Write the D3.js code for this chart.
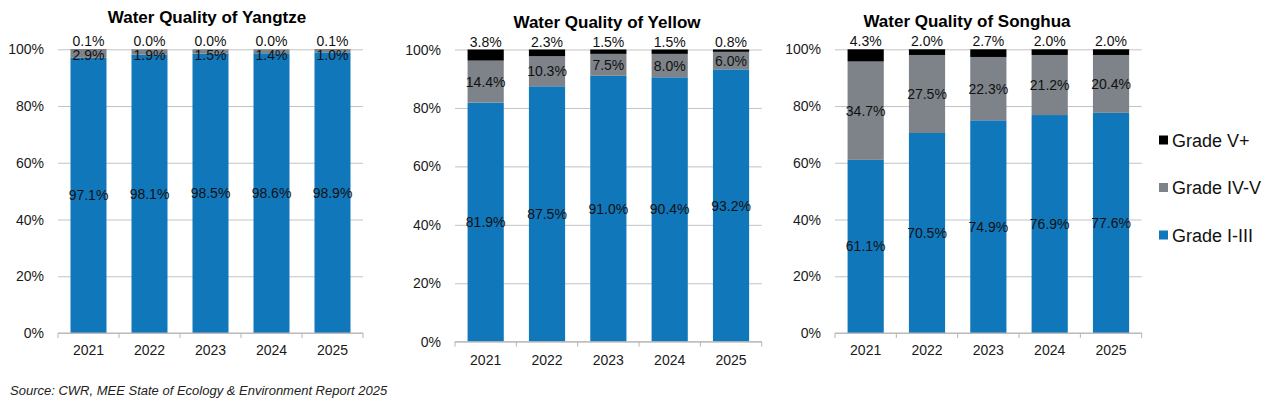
<!DOCTYPE html>
<html>
<head>
<meta charset="utf-8">
<script src="https://cdn.jsdelivr.net/npm/d3@7"></script>
<style>
  body { margin: 0; background: #fff; }
  svg { font-family: "Liberation Sans", Arial, sans-serif; }
</style>
</head>
<body>
<div id="chart"></div>
<script>
const years = ["2021", "2022", "2023", "2024", "2025"];
const grades = ["Grade I-III", "Grade IV-V", "Grade V+"];
const yTicks = [0, 0.2, 0.4, 0.6, 0.8, 1];

const yangtzeI = [97.1, 98.1, 98.5, 98.6, 98.9];
const yangtzeIV = [2.9, 1.9, 1.5, 1.4, 1.0];
const yangtzeV = [0.1, 0.0, 0.0, 0.0, 0.1];

const yellowI = [81.9, 87.5, 91.0, 90.4, 93.2];
const yellowIV = [14.4, 10.3, 7.5, 8.0, 6.0];
const yellowV = [3.8, 2.3, 1.5, 1.5, 0.8];

const songhuaI = [61.1, 70.5, 74.9, 76.9, 77.6];
const songhuaIV = [34.7, 27.5, 22.3, 21.2, 20.4];
const songhuaV = [4.3, 2.0, 2.7, 2.0, 2.0];

const colors = { "Grade I-III": "#1077bb", "Grade IV-V": "#7d8389", "Grade V+": "#000000" };

const W = 1278, H = 409;
const svg = d3.select("#chart").append("svg")
    .attr("width", W)
    .attr("height", H);

// one panel per river
const panels = [
  { title: "Water Quality of Yangtze", vals: [yangtzeI, yangtzeIV, yangtzeV],
    x0: 58, x1: 363, yTop: 49.3, yBot: 333, titleX: 207, titleY: 22.5, yearY: 355 },
  { title: "Water Quality of Yellow", vals: [yellowI, yellowIV, yellowV],
    x0: 455, x1: 761.7, yTop: 49.5, yBot: 341.7, titleX: 607, titleY: 27.8, yearY: 365 },
  { title: "Water Quality of Songhua", vals: [songhuaI, songhuaIV, songhuaV],
    x0: 835, x1: 1141.7, yTop: 49.3, yBot: 333, titleX: 967, titleY: 26.8, yearY: 355 }
];

panels.forEach(p => {
  const rows = years.map((yr, i) => {
    const r = { year: yr };
    grades.forEach((g, k) => r[g] = p.vals[k][i]);
    return r;
  });

  const stacked = d3.stack().keys(grades).offset(d3.stackOffsetExpand)(rows);

  const x = d3.scaleBand().domain(years).range([p.x0, p.x1])
      .paddingInner(0.41).paddingOuter(0.205);
  const y = d3.scaleLinear().domain([0, 1]).range([p.yBot, p.yTop]);

  const g = svg.append("g");

  // gridlines
  g.append("g")
      .attr("transform", `translate(${p.x0},0)`)
      .call(d3.axisLeft(y).tickValues(yTicks).tickSize(-(p.x1 - p.x0)).tickFormat(""))
      .call(s => s.select(".domain").remove())
      .selectAll("line").attr("stroke", "#c3c3c3");

  // y tick labels
  g.selectAll(".ylab")
    .data(yTicks)
    .enter().append("text")
      .attr("x", p.x0 - 14)
      .attr("y", d => y(d) + 5)
      .attr("text-anchor", "end")
      .style("font-size", "14px")
      .style("fill", "#1a1a1a")
      .text(d3.format(".0%"));

  // bars
  stacked.forEach(layer => {
    g.selectAll(null)
      .data(layer)
      .enter().append("rect")
        .attr("x", d => x(d.data.year))
        .attr("width", x.bandwidth())
        .attr("y", d => y(d[1]))
        .attr("height", d => Math.max(0, y(d[0]) - y(d[1])))
        .attr("fill", colors[layer.key]);
  });

  // x axis
  const xa = g.append("g").attr("transform", `translate(0,${p.yBot})`);
  xa.append("line")
      .attr("x1", p.x0).attr("x2", p.x1)
      .attr("stroke", "#b5b5b5");
  const bounds = years.map(yr => x(yr) - x.step() * x.paddingInner() / 2).concat([p.x1]);
  xa.selectAll(".tk")
    .data(bounds)
    .enter().append("line")
      .attr("x1", d => d).attr("x2", d => d)
      .attr("y1", 0).attr("y2", 5)
      .attr("stroke", "#b5b5b5");
  g.selectAll(".xlab")
    .data(years)
    .enter().append("text")
      .attr("x", d => x(d) + x.bandwidth() / 2)
      .attr("y", p.yearY)
      .attr("text-anchor", "middle")
      .style("font-size", "14px")
      .style("fill", "#1a1a1a")
      .text(d => d);

  // data labels
  stacked.forEach((layer, k) => {
    g.selectAll(null)
      .data(layer)
      .enter().append("text")
        .attr("x", d => x(d.data.year) + x.bandwidth() / 2)
        .attr("y", d => {
          if (k === grades.length - 1) return p.yTop - 3;
          let c = (y(d[0]) + y(d[1])) / 2;
          return Math.max(c, p.yTop + 6) + 5;
        })
        .attr("text-anchor", "middle")
        .style("font-size", "14px")
        .style("fill", "#111")
        .text(d => d.data[layer.key].toFixed(1) + "%");
  });

  // title
  svg.append("text")
      .attr("x", p.titleX)
      .attr("y", p.titleY)
      .attr("text-anchor", "middle")
      .style("font-size", "17px")
      .style("font-weight", "bold")
      .text(p.title);
});

// legend
const legendItems = ["Grade V+", "Grade IV-V", "Grade I-III"];
const lg = svg.append("g").attr("transform", "translate(1159,0)");
legendItems.forEach((k, i) => {
  const cy = 140 + i * 47.5;
  lg.append("rect")
      .attr("x", 0).attr("y", cy - 4.5)
      .attr("width", 9).attr("height", 9)
      .attr("fill", colors[k]);
  lg.append("text")
      .attr("x", 13).attr("y", cy + 6.5)
      .style("font-size", "18px")
      .style("fill", "#111")
      .text(k);
});

// source
svg.append("text")
    .attr("x", 10)
    .attr("y", 395)
    .style("font-size", "13px")
    .style("font-style", "italic")
    .style("fill", "#222")
    .text("Source: CWR, MEE State of Ecology & Environment Report 2025");
</script>
</body>
</html>
